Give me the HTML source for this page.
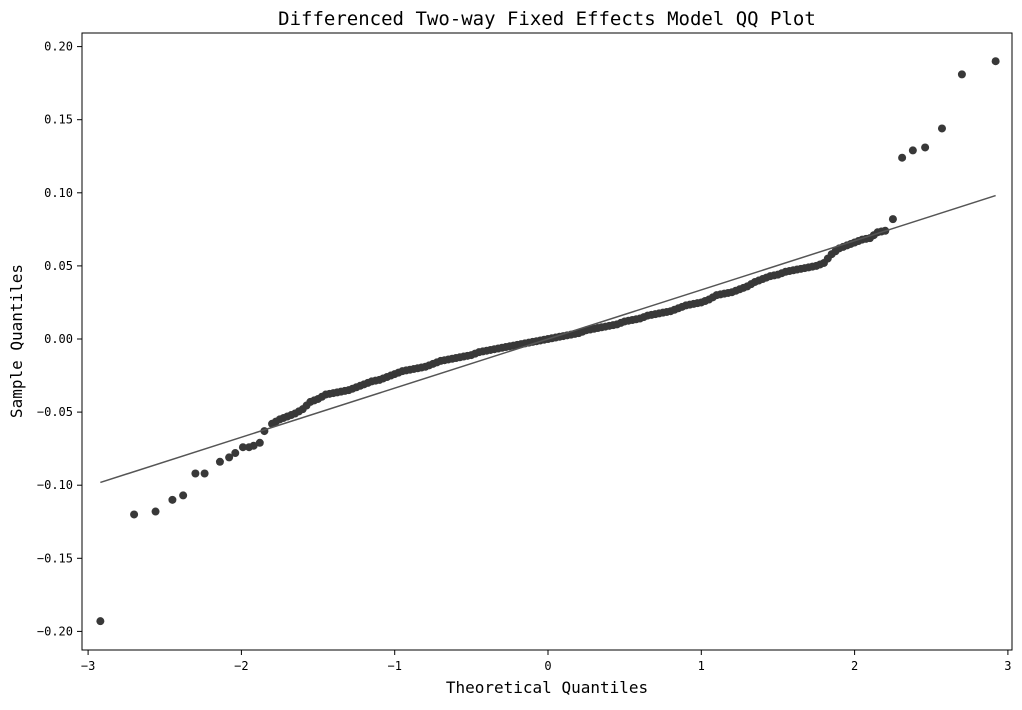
<!DOCTYPE html>
<html><head><meta charset="utf-8"><style>
body{margin:0;background:#fff;}
svg text{font-family:"DejaVu Sans Mono","Liberation Mono",monospace;fill:#000;}
</style></head><body>
<svg id="chart" width="1022" height="705" xmlns="http://www.w3.org/2000/svg">
<rect width="1022" height="705" fill="#fff"/>
<text x="547" y="25" font-size="19" text-anchor="middle">Differenced Two-way Fixed Effects Model QQ Plot</text>
<text x="547" y="693" font-size="16" text-anchor="middle">Theoretical Quantiles</text>
<text transform="translate(22,341) rotate(-90)" font-size="16" text-anchor="middle">Sample Quantiles</text>
<g id="marks"></g>
<rect x="82" y="33" width="930" height="617" fill="none" stroke="#000" stroke-width="1"/>
<g id="axes"></g>
</svg>
<script>
const theoretical = [-2.92,-2.70,-2.56,-2.45,-2.38,-2.30,-2.24,-2.14,-2.08,-2.04,-1.99,-1.95,-1.92,-1.88,-1.85,
-1.80,-1.75,-1.70,-1.65,-1.60,-1.55,-1.50,-1.45,-1.40,-1.35,-1.30,-1.25,-1.20,-1.15,-1.10,-1.05,-1.00,-0.95,-0.90,-0.85,-0.80,-0.75,-0.70,-0.65,-0.60,-0.55,-0.50,-0.45,-0.40,-0.35,-0.30,-0.25,-0.20,-0.15,-0.10,-0.05,0.00,0.05,0.10,0.15,0.20,0.25,0.30,0.35,0.40,0.45,0.50,0.55,0.60,0.65,0.70,0.75,0.80,0.85,0.90,0.95,1.00,1.05,1.10,1.15,1.20,1.25,1.30,1.35,1.40,1.45,1.50,1.55,1.60,1.65,1.70,1.75,1.80,1.85,1.90,1.95,2.00,2.05,2.10,2.15,2.20,2.25,
2.31,2.38,2.46,2.57,2.70,2.92];
const sample = [-0.193,-0.120,-0.118,-0.110,-0.107,-0.092,-0.092,-0.084,-0.081,-0.078,-0.074,-0.074,-0.073,-0.071,-0.063,
-0.058,-0.055,-0.053,-0.051,-0.048,-0.043,-0.041,-0.038,-0.037,-0.036,-0.035,-0.033,-0.031,-0.029,-0.028,-0.026,-0.024,-0.022,-0.021,-0.020,-0.019,-0.017,-0.015,-0.014,-0.013,-0.012,-0.011,-0.009,-0.008,-0.007,-0.006,-0.005,-0.004,-0.003,-0.002,-0.001,0.000,0.001,0.002,0.003,0.004,0.006,0.007,0.008,0.009,0.010,0.012,0.013,0.014,0.016,0.017,0.018,0.019,0.021,0.023,0.024,0.025,0.027,0.030,0.031,0.032,0.034,0.036,0.039,0.041,0.043,0.044,0.046,0.047,0.048,0.049,0.050,0.052,0.058,0.062,0.064,0.066,0.068,0.069,0.073,0.074,0.082,
0.124,0.129,0.131,0.144,0.181,0.190];
const theoreticalDense = [-1.775,-1.725,-1.675,-1.625,-1.575,-1.525,-1.475,-1.425,-1.375,-1.325,-1.275,-1.225,-1.175,-1.125,-1.075,-1.025,-0.975,-0.925,-0.875,-0.825,-0.775,-0.725,-0.675,-0.625,-0.575,-0.525,-0.475,-0.425,-0.375,-0.325,-0.275,-0.225,-0.175,-0.125,-0.075,-0.025,0.025,0.075,0.125,0.175,0.225,0.275,0.325,0.375,0.425,0.475,0.525,0.575,0.625,0.675,0.725,0.775,0.825,0.875,0.925,0.975,1.025,1.075,1.125,1.175,1.225,1.275,1.325,1.375,1.425,1.475,1.525,1.575,1.625,1.675,1.725,1.775,1.825,1.875,1.925,1.975,2.025,2.075,2.125,2.175];
const sampleDense = [-0.0565,-0.054,-0.052,-0.0495,-0.0455,-0.042,-0.0395,-0.0375,-0.0365,-0.0355,-0.034,-0.032,-0.030,-0.0285,-0.027,-0.025,-0.023,-0.0215,-0.0205,-0.0195,-0.018,-0.016,-0.0145,-0.0135,-0.0125,-0.0115,-0.010,-0.0085,-0.0075,-0.0065,-0.0055,-0.0045,-0.0035,-0.0025,-0.0015,-0.0005,0.0005,0.0015,0.0025,0.0035,0.005,0.0065,0.0075,0.0085,0.0095,0.011,0.0125,0.0135,0.015,0.0165,0.0175,0.0185,0.020,0.022,0.0235,0.0245,0.026,0.0285,0.0305,0.0315,0.033,0.035,0.0375,0.040,0.042,0.0435,0.045,0.0465,0.0475,0.0485,0.0495,0.051,0.055,0.060,0.063,0.065,0.067,0.0685,0.071,0.0735];
const lineEnds = [-2.92, 2.92];
const lineSlope = 0.0336;
const lineIntercept = 0;
const xTicks = [-3,-2,-1,0,1,2,3];
const yTicks = [-0.20,-0.15,-0.10,-0.05,0.00,0.05,0.10,0.15,0.20];
const NS="http://www.w3.org/2000/svg";
function X(v){return 548+v*153.3;}
function Y(v){return 339-v*1462;}
const marks=document.getElementById('marks');
function addPoints(xs, ys){
  for(let i=0;i<xs.length;i++){
    const c=document.createElementNS(NS,'circle');
    c.setAttribute('cx',X(xs[i]));c.setAttribute('cy',Y(ys[i]));c.setAttribute('r',4);
    c.setAttribute('fill','#383838');
    
    
    marks.appendChild(c);
  }
}
addPoints(theoretical, sample);
addPoints(theoreticalDense, sampleDense);
const ln=document.createElementNS(NS,'line');
ln.setAttribute('x1',X(lineEnds[0]));ln.setAttribute('y1',Y(lineIntercept+lineSlope*lineEnds[0]));
ln.setAttribute('x2',X(lineEnds[1]));ln.setAttribute('y2',Y(lineIntercept+lineSlope*lineEnds[1]));
ln.setAttribute('stroke','#555');ln.setAttribute('stroke-width','1.5');


marks.appendChild(ln);
const axes=document.getElementById('axes');
xTicks.forEach(t=>{
  const l=document.createElementNS(NS,'line');
  l.setAttribute('x1',X(t));l.setAttribute('x2',X(t));l.setAttribute('y1',650);l.setAttribute('y2',655);l.setAttribute('stroke','#000');
  
  
  axes.appendChild(l);
  const tx=document.createElementNS(NS,'text');
  tx.setAttribute('x',X(t));tx.setAttribute('y',670);tx.setAttribute('font-size','12');tx.setAttribute('text-anchor','middle');
  tx.textContent=(t<0?'\u2212'+(-t):String(t));
  
  
  axes.appendChild(tx);
});
yTicks.forEach(t=>{
  const l=document.createElementNS(NS,'line');
  l.setAttribute('x1',77);l.setAttribute('x2',82);l.setAttribute('y1',Y(t));l.setAttribute('y2',Y(t));l.setAttribute('stroke','#000');
  
  
  axes.appendChild(l);
  const tx=document.createElementNS(NS,'text');
  tx.setAttribute('x',73);tx.setAttribute('y',Y(t)+4);tx.setAttribute('font-size','12');tx.setAttribute('text-anchor','end');
  tx.textContent=(t<0?'\u2212'+(-t).toFixed(2):t.toFixed(2));
  
  
  axes.appendChild(tx);
});
</script>
</body></html>
